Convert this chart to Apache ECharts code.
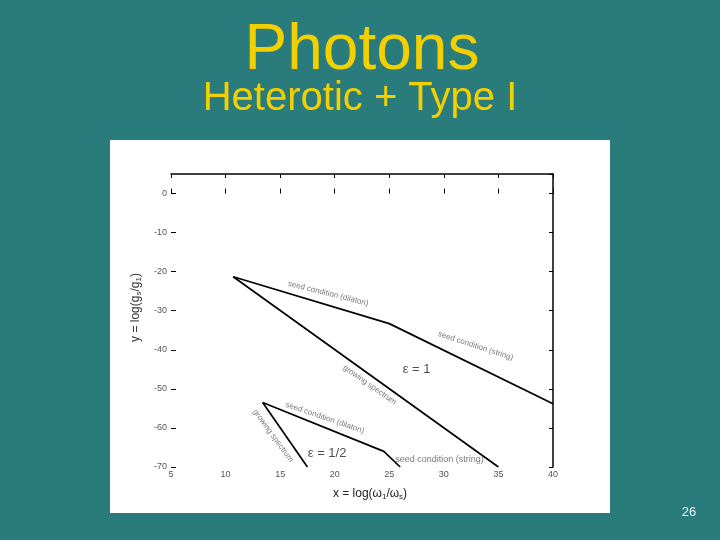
<!DOCTYPE html>
<html>
<head>
<meta charset="utf-8">
<script src="https://cdn.jsdelivr.net/npm/echarts@6/dist/echarts.min.js"></script>
<style>
html,body{margin:0;padding:0;background:#2a7b7b;}
#c{width:720px;height:540px;}
</style>
</head>
<body>
<div id="c"></div>
<script>
// ---- data ----
var eps1Seed = [[10.7, -21.3], [25.0, -33.3], [40.0, -53.8]];      // dilaton then string
var eps1Growing = [[10.7, -21.3], [35.0, -70.0]];
var epsHalfSeed = [[13.4, -53.5], [24.5, -66.0], [26.0, -70.0]];   // dilaton then string
var epsHalfGrowing = [[13.4, -53.5], [17.5, -70.0]];
var xTicks = [5, 10, 15, 20, 25, 30, 35, 40];
var yTicks = [0, -10, -20, -30, -40, -50, -60, -70];
// annotations
var annotX = [19.4, 32.9, 27.5, 23.2, 19.1, 14.35, 19.3, 29.6];
var annotY = [-25.6, -39.0, -44.9, -49.0, -57.4, -62.0, -66.4, -68.0];
var annotText = ['seed condition (dilaton)', 'seed condition (string)', 'ε = 1', 'growing spectrum',
                 'seed condition (dilaton)', 'growing spectrum', 'ε = 1/2', 'seed condition (string)'];
var annotRot = [-14, -18, 0, -35, -19, -54, 0, 0];
var annotSize = [8, 8, 13, 8, 8, 8, 13, 9];

var chart = echarts.init(document.getElementById('c'), null, {renderer: 'canvas'});

var annotData = annotText.map(function (t, i) {
  return {
    value: [annotX[i], annotY[i]],
    label: {
      show: true, formatter: t, rotate: annotRot[i], fontSize: annotSize[i],
      color: annotSize[i] > 10 ? '#222' : '#555', position: 'inside', align: 'center', verticalAlign: 'middle',
      fontFamily: 'Liberation Sans'
    }
  };
});

function lineSeries(d) {
  return {type: 'line', data: d, showSymbol: false, symbol: 'none', silent: true,
          lineStyle: {color: '#000', width: 1.7}, z: 3};
}

var xMin = xTicks[0], xMax = xTicks[xTicks.length - 1];
var yMin = yTicks[yTicks.length - 1];

var option = {
  backgroundColor: '#2a7b7b',
  animation: false,
  graphic: {
    elements: [
      {type: 'rect', z: -10, shape: {x: 110, y: 140, width: 500, height: 373}, style: {fill: '#ffffff'}},
      {type: 'text', z: 10, x: 362, y: 83, style: {text: 'Photons', font: '64px "Liberation Sans"', fill: '#f2d000',
        textAlign: 'center', textVerticalAlign: 'bottom', shadowColor: 'rgba(0,35,35,0.85)', shadowOffsetX: 2, shadowOffsetY: 2, shadowBlur: 2}},
      {type: 'text', z: 10, x: 360, y: 119, style: {text: 'Heterotic + Type I', font: '40px "Liberation Sans"', fill: '#f2d000',
        textAlign: 'center', textVerticalAlign: 'bottom', shadowColor: 'rgba(0,35,35,0.85)', shadowOffsetX: 2, shadowOffsetY: 2, shadowBlur: 2}},
      {type: 'text', z: 10, x: 689, y: 512, style: {text: '26', font: '13px "Liberation Sans"', fill: '#e6f4f4',
        textAlign: 'center', textVerticalAlign: 'middle'}}
    ]
  },
  grid: {left: 171, right: 167, top: 174, bottom: 73, containLabel: false},
  xAxis: [
    {type: 'value', min: xMin, max: xMax, interval: 5, position: 'bottom',
     axisLine: {show: false}, splitLine: {show: false},
     axisTick: {show: true, inside: true, length: 5, lineStyle: {color: '#000'}},
     axisLabel: {margin: 3, fontSize: 9, color: '#555', fontFamily: 'Liberation Sans'},
     name: 'x = log(ω{s1|1}/ω{s1|s})', nameLocation: 'middle', nameGap: 20,
     nameTextStyle: {fontSize: 12, color: '#222', fontFamily: 'Liberation Sans', padding: [0, 0, 0, 16],
       rich: {s1: {fontSize: 8, color: '#222', padding: [6, 0, 0, 0], fontFamily: 'Liberation Sans'}}}},
    {type: 'value', min: xMin, max: xMax, interval: 5, position: 'top',
     axisLine: {show: true, onZero: false, lineStyle: {color: '#000', width: 1.5}}, splitLine: {show: false},
     axisTick: {show: true, inside: true, length: 4, lineStyle: {color: '#000'}},
     axisLabel: {show: false}}
  ],
  yAxis: [
    {type: 'value', min: yMin, max: 5, interval: 10, position: 'left',
     axisLine: {show: false}, splitLine: {show: false},
     axisTick: {show: true, inside: true, length: 5, lineStyle: {color: '#000'}},
     axisLabel: {margin: 4, fontSize: 9, color: '#555', showMaxLabel: false, fontFamily: 'Liberation Sans'},
     name: 'y = log(g{s1|s}/g{s1|1})', nameLocation: 'middle', nameGap: 28, nameRotate: 90,
     nameTextStyle: {fontSize: 12, color: '#333', fontFamily: 'Liberation Sans', padding: [0, 0, 0, 26],
       rich: {s1: {fontSize: 8, color: '#333', padding: [6, 0, 0, 0], fontFamily: 'Liberation Sans'}}}},
    {type: 'value', min: yMin, max: 5, interval: 10, position: 'right',
     axisLine: {show: true, onZero: false, lineStyle: {color: '#000', width: 1.5}}, splitLine: {show: false},
     axisTick: {show: true, inside: true, length: 4, lineStyle: {color: '#000'}},
     axisLabel: {show: false}}
  ],
  series: [
    lineSeries(eps1Seed),
    lineSeries(eps1Growing),
    lineSeries(epsHalfSeed),
    lineSeries(epsHalfGrowing),
    {type: 'scatter', data: annotData, symbolSize: 0, silent: true, z: 4}
  ]
};
chart.setOption(option);
</script>
</body>
</html>
